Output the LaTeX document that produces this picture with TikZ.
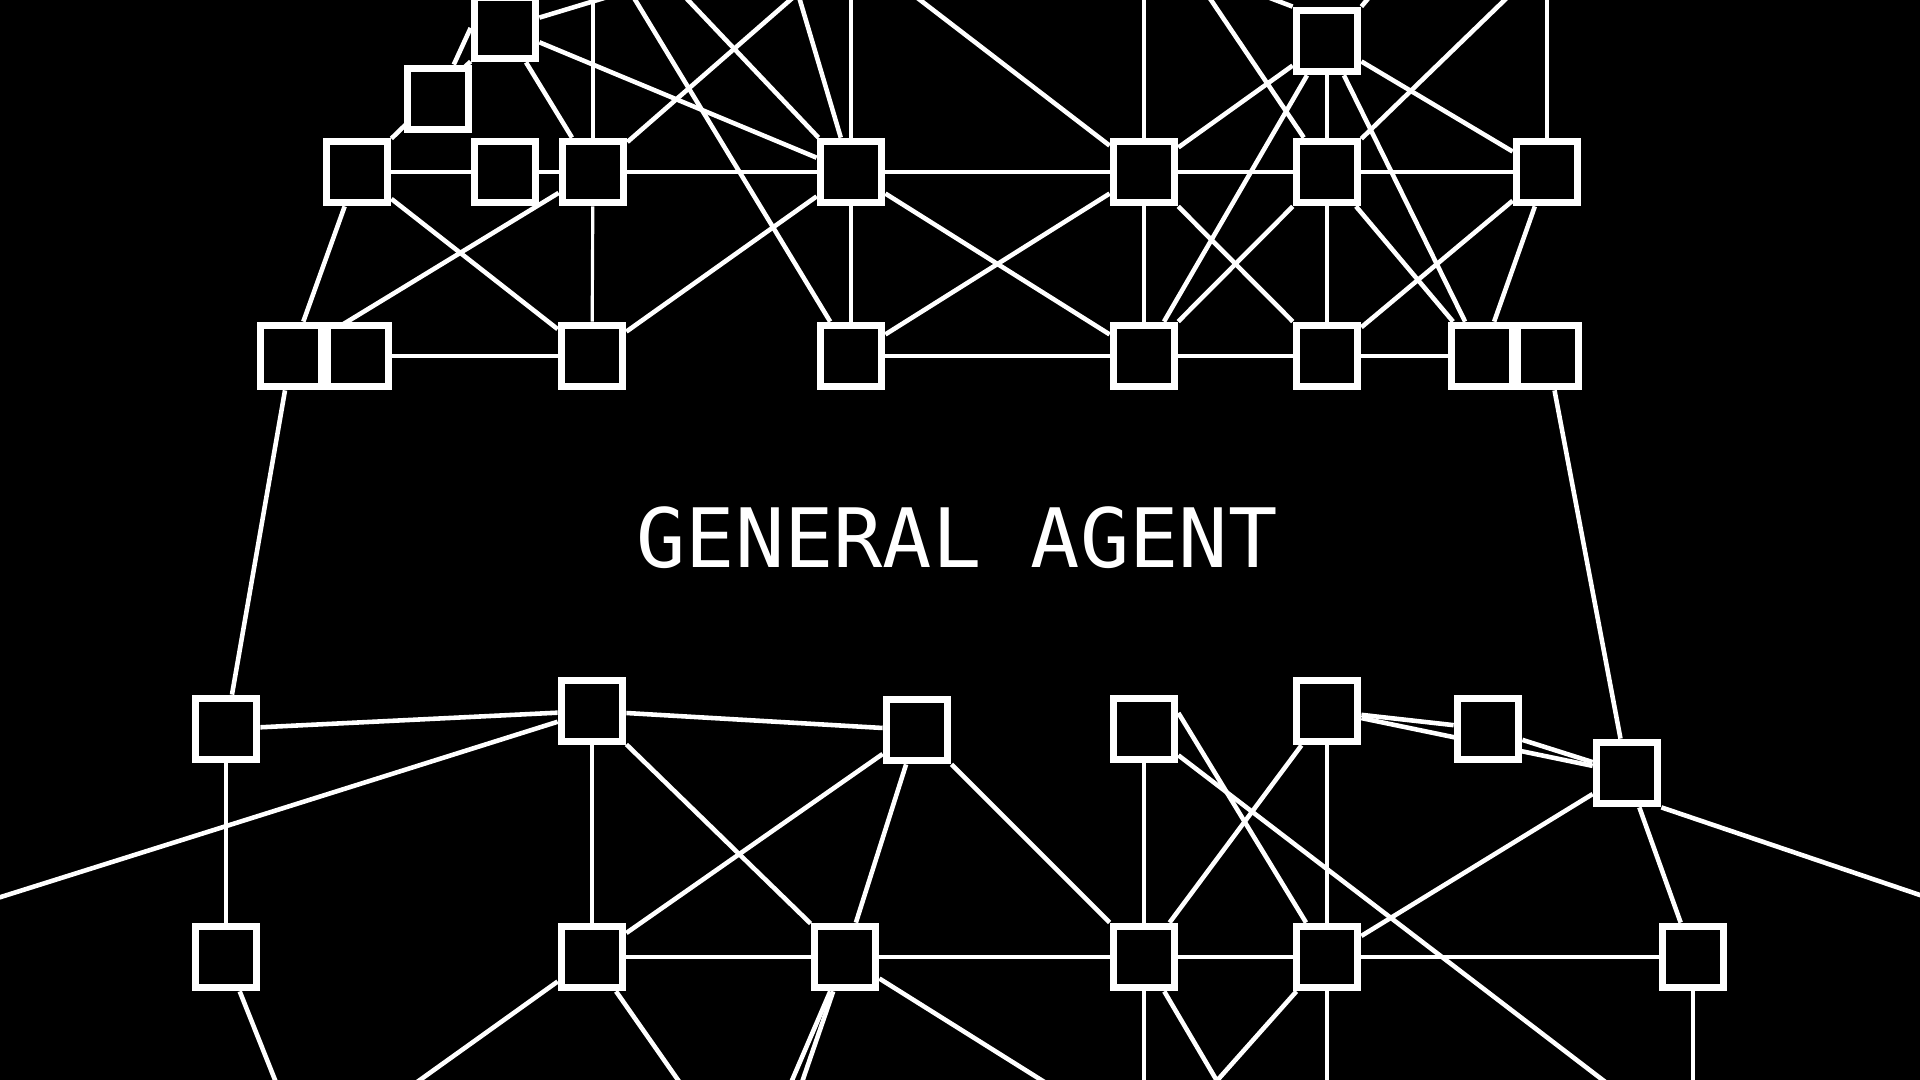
\documentclass[tikz,border=0pt]{standalone}
\usepackage{fontspec}
\newfontfamily\agentfont{DejaVu Sans Mono}
\usetikzlibrary{backgrounds}

\begin{document}
\begin{tikzpicture}[x=0.01cm,y=-0.01cm,
  box/.style={draw=white,fill=black,line width=2.2pt,minimum size=0.61cm,inner sep=0pt},
  link/.style={draw=white,line width=1.3pt},
  vlink/.style={draw=white,line width=0.9pt}]
  \useasboundingbox (0,0) rectangle (1920,1080);
  \clip (0,0) rectangle (1920,1080);
  \node[box] (a1) at (505,28) {};
  \node[box] (a2) at (438,99) {};
  \node[box] (a3) at (1327,41) {};
  \node[box] (b1) at (357,172) {};
  \node[box] (b2) at (505,172) {};
  \node[box] (b3) at (593,172) {};
  \node[box] (b4) at (851,172) {};
  \node[box] (b5) at (1144,172) {};
  \node[box] (b6) at (1327,172) {};
  \node[box] (b7) at (1547,172) {};
  \node[box] (c1) at (291,356) {};
  \node[box] (c2) at (358,356) {};
  \node[box] (c3) at (592,356) {};
  \node[box] (c4) at (851,356) {};
  \node[box] (c5) at (1144,356) {};
  \node[box] (c6) at (1327,356) {};
  \node[box] (c7) at (1482,356) {};
  \node[box] (c8) at (1548,356) {};
  \node[box] (d1) at (226,729) {};
  \node[box] (d2) at (592,711) {};
  \node[box] (d3) at (917,730) {};
  \node[box] (d4) at (1144,729) {};
  \node[box] (d5) at (1327,711) {};
  \node[box] (d6) at (1488,729) {};
  \node[box] (d7) at (1627,773) {};
  \node[box] (e1) at (226,957) {};
  \node[box] (e2) at (592,957) {};
  \node[box] (e3) at (845,957) {};
  \node[box] (e4) at (1144,957) {};
  \node[box] (e5) at (1327,957) {};
  \node[box] (e6) at (1693,957) {};
  \node[text=white,font=\agentfont\fontsize{23.3}{28}\selectfont] (title) at (957,538) {GENERAL AGENT};
  \coordinate (t1) at (730,-40);
  \coordinate (t2) at (611,-40);
  \coordinate (t3) at (650,-40);
  \coordinate (t4) at (836,-40);
  \coordinate (t5) at (593,-40);
  \coordinate (t6) at (788,-40);
  \coordinate (t7) at (851,-40);
  \coordinate (t8) at (868,-40);
  \coordinate (t9) at (1144,-40);
  \coordinate (t10) at (1184,-40);
  \coordinate (t11) at (1546,-40);
  \coordinate (t12) at (1547,-40);
  \coordinate (t13) at (1170,-40);
  \coordinate (t14) at (1400,-40);
  \coordinate (lf1) at (-50,913);
  \coordinate (rt1) at (1970,912);
  \coordinate (bt1) at (291,1120);
  \coordinate (bt2) at (364,1120);
  \coordinate (bt3) at (706,1120);
  \coordinate (bt4) at (789,1120);
  \coordinate (bt5) at (775,1120);
  \coordinate (bt6) at (1105,1120);
  \coordinate (bt7) at (1144,1120);
  \coordinate (bt8) at (1240,1120);
  \coordinate (bt9) at (1182,1120);
  \coordinate (bt10) at (1327,1120);
  \coordinate (bt11) at (1693,1120);
  \coordinate (bt12) at (1655,1120);
  \begin{scope}[on background layer]
    \clip (0,0) rectangle (1920,1080);
    \fill[black] (0,0) rectangle (1920,1080);
    \draw[link] (a1) -- (t1);
    \draw[link] (b1) -- (a1);
    \draw[link] (a2) -- (a1.west);
    \draw[link] (a1) -- (b4);
    \draw[link] (a1) -- (b3);
    \draw[vlink] (t5) -- (b3);
    \draw[link] (t4) -- (b3);
    \draw[link] (t2) -- (c4);
    \draw[link] (t3) -- (b4);
    \draw[link] (t6) -- (b4);
    \draw[vlink] (t7) -- (b4);
    \draw[link] (t8) -- (b5);
    \draw[vlink] (t9) -- (b5);
    \draw[link] (t10) -- (b6);
    \draw[link] (t11) -- (b6);
    \draw[vlink] (t12) -- (b7);
    \draw[link] (t13) -- (a3.north west);
    \draw[link] (t14) -- (a3.north east);
    \draw[link] (b5) -- (a3);
    \draw[vlink] (a3) -- (b6);
    \draw[link] (a3) -- (b7);
    \draw[link] (a3) -- (c5);
    \draw[link] (a3) -- (c7);
    \draw[link] (b1) -- (b2);
    \draw[link] (b2) -- (b3);
    \draw[link] (b3) -- (b4);
    \draw[link] (b4) -- (b5);
    \draw[link] (b5) -- (b6);
    \draw[link] (b6) -- (b7);
    \draw[link] (b1) -- (c1);
    \draw[link] (b1) -- (c3);
    \draw[link] (b3) -- (c1);
    \draw[vlink] (b3) -- (c3);
    \draw[link] (b4) -- (c3);
    \draw[vlink] (b4) -- (c4);
    \draw[link] (b4) -- (c5);
    \draw[link] (b5) -- (c4);
    \draw[vlink] (b5) -- (c5);
    \draw[link] (b5) -- (c6);
    \draw[link] (b6) -- (c5);
    \draw[vlink] (b6) -- (c6);
    \draw[link] (b6) -- (c7);
    \draw[link] (b7) -- (c6);
    \draw[link] (b7) -- (c7);
    \draw[link] (c2) -- (c3);
    \draw[link] (c4) -- (c5);
    \draw[link] (c5) -- (c6);
    \draw[link] (c6) -- (c7);
    \draw[link] (c1) -- (d1);
    \draw[link] (c8) -- (d7);
    \draw[link] (d1) -- (d2);
    \draw[link] (d2) -- (d3);
    \draw[link] (d2) -- (lf1);
    \draw[vlink] (d1) -- (e1);
    \draw[vlink] (d2) -- (e2);
    \draw[link] (d2) -- (e3);
    \draw[link] (d3) -- (e2);
    \draw[link] (d3) -- (e3);
    \draw[link] (d3) -- (e4);
    \draw[vlink] (d4) -- (e4);
    \draw[link] (d4.25) -- (e5);
    \draw[link] (d4) -- (bt12);
    \draw[link] (d5) -- (e4);
    \draw[vlink] (d5) -- (e5);
    \draw[link] (d5) -- (d6);
    \draw[link] (d5) -- (d7);
    \draw[link] (d6) -- (d7);
    \draw[link] (d7) -- (e5);
    \draw[link] (d7) -- (e6);
    \draw[link] (d7.south east) -- (rt1);
    \draw[link] (e2) -- (e3);
    \draw[link] (e3) -- (e4);
    \draw[link] (e4) -- (e5);
    \draw[link] (e5) -- (e6);
    \draw[link] (e1) -- (bt1);
    \draw[link] (e2) -- (bt2);
    \draw[link] (e2) -- (bt3);
    \draw[link] (e3) -- (bt4);
    \draw[link] (e3) -- (bt5);
    \draw[link] (e3) -- (bt6);
    \draw[vlink] (e4) -- (bt7);
    \draw[link] (e4) -- (bt8);
    \draw[link] (e5) -- (bt9);
    \draw[vlink] (e5) -- (bt10);
    \draw[vlink] (e6) -- (bt11);
  \end{scope}
\end{tikzpicture}
\end{document}
